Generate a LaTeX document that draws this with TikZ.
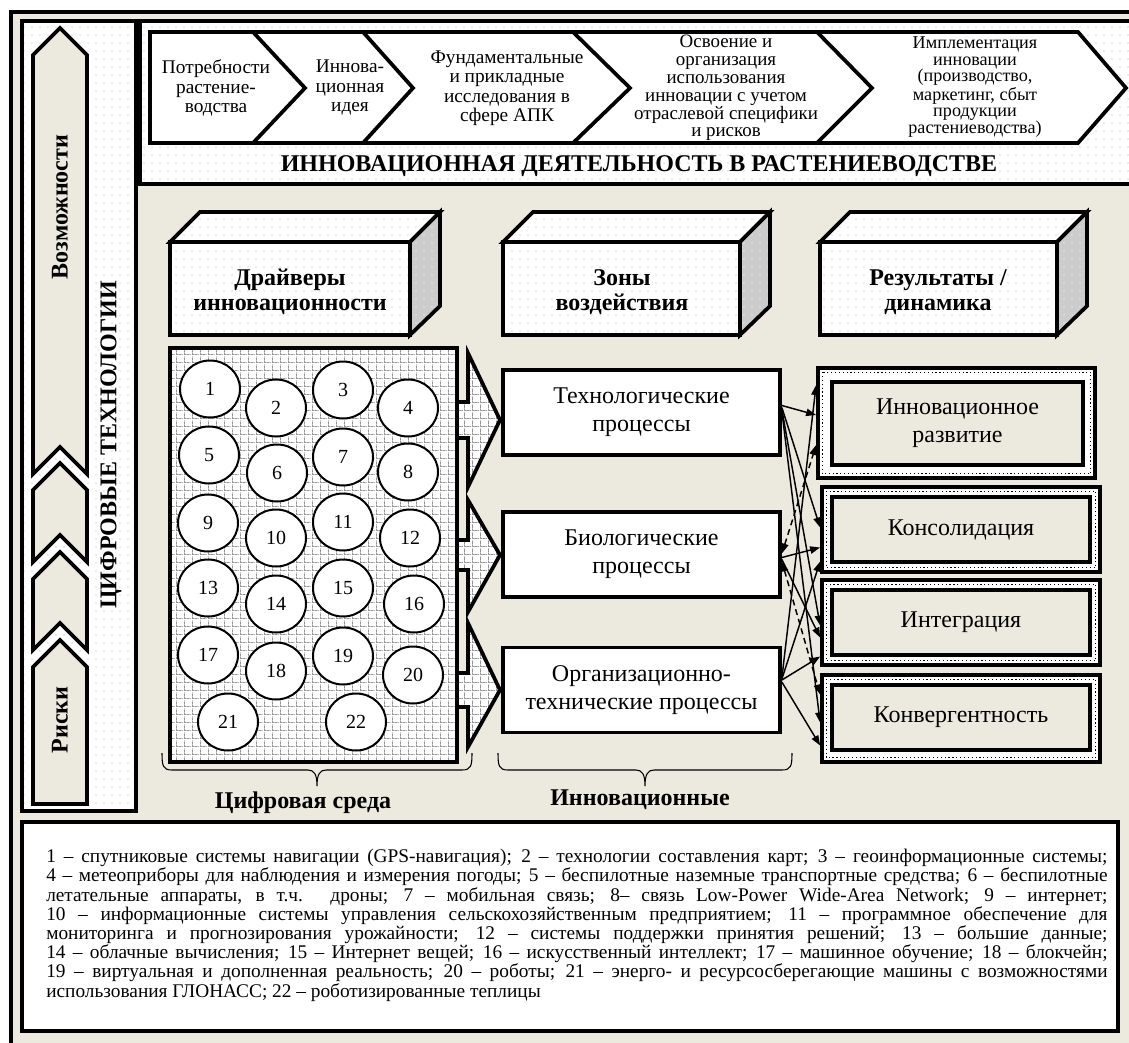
\documentclass[tikz,border=0pt]{standalone}
\usepackage{fontspec}
\setmainfont{Liberation Serif}
\usetikzlibrary{shapes.geometric,arrows.meta,calc,patterns}
\definecolor{beige}{RGB}{236,233,223}
\definecolor{sidegray}{RGB}{204,204,204}
\pgfdeclarepatternformonly{sdots}{\pgfpoint{-0.5pt}{-0.5pt}}{\pgfpoint{0.5pt}{0.5pt}}{\pgfpoint{6pt}{6pt}}{\pgfpathcircle{\pgfpointorigin}{0.45pt}\pgfusepath{fill}}
\pgfdeclarepatternformonly{dgrid}{\pgfpoint{0pt}{0pt}}{\pgfpoint{6pt}{6pt}}{\pgfpoint{6pt}{6pt}}{%
\pgfpathrectangle{\pgfpoint{0pt}{0pt}}{\pgfpoint{0.6pt}{0.6pt}}%
\pgfpathrectangle{\pgfpoint{1.2pt}{0pt}}{\pgfpoint{0.6pt}{0.6pt}}%
\pgfpathrectangle{\pgfpoint{2.4pt}{0pt}}{\pgfpoint{0.6pt}{0.6pt}}%
\pgfpathrectangle{\pgfpoint{3.6pt}{0pt}}{\pgfpoint{0.6pt}{0.6pt}}%
\pgfpathrectangle{\pgfpoint{4.8pt}{0pt}}{\pgfpoint{0.6pt}{0.6pt}}%
\pgfpathrectangle{\pgfpoint{0pt}{1.2pt}}{\pgfpoint{0.6pt}{0.6pt}}%
\pgfpathrectangle{\pgfpoint{0pt}{2.4pt}}{\pgfpoint{0.6pt}{0.6pt}}%
\pgfpathrectangle{\pgfpoint{0pt}{3.6pt}}{\pgfpoint{0.6pt}{0.6pt}}%
\pgfpathrectangle{\pgfpoint{0pt}{4.8pt}}{\pgfpoint{0.6pt}{0.6pt}}%
\pgfusepath{fill}}
\tikzset{
  thk/.style={line width=2.8pt, line join=miter},
  dotbg/.style={preaction={fill=white}, pattern=sdots, pattern color=black!30},
  graybg/.style={preaction={fill=sidegray}, pattern=sdots, pattern color=white},
  gridbg/.style={preaction={fill=white}, pattern=dgrid, pattern color=black},
  ctext/.style={align=center, inner sep=0pt, font=\fontsize{14.5}{14.6}\selectfont},
  boldlbl/.style={align=center, inner sep=0pt, font=\bfseries\fontsize{18}{18.75}\selectfont},
  pbox/.style={draw, thk, fill=white, align=center, minimum width=207.75pt, minimum height=63.75pt, inner sep=0pt, font=\fontsize{18}{21}\selectfont},
  rout/.style={draw, thk, fill=white, minimum width=208.5pt, minimum height=63.75pt, inner sep=0pt},
  rin/.style={draw, thk, fill=beige, align=center, minimum width=193.5pt, minimum height=48.75pt, inner sep=0pt, font=\fontsize{18}{21}\selectfont},
  ring/.style={line width=0.9pt, dotted},
  circ/.style={ellipse, draw, line width=1.5pt, fill=white, minimum width=45pt, minimum height=42.75pt, inner sep=0pt, font=\fontsize{15}{15}\selectfont},
  >={Triangle[length=7.5pt,width=5.5pt]},
  conn/.style={line width=1.1pt, ->},
  dconn/.style={line width=1.1pt, <->, dash pattern=on 4.5pt off 3pt},
  brc/.style={line width=0.8pt},
}
\begin{document}
\begin{tikzpicture}[x=0.75pt,y=-0.75pt]
\useasboundingbox (0,0) rectangle (1129,1043);
\clip (0,0) rectangle (1129,1043);
\fill[white] (0,0) rectangle (1129,1043);
% outer frame
\draw[thk, fill=beige] (11,12) rectangle (1145,1055);
% panels
\draw[thk, dotbg] (140,21) rectangle (1145,184);
\draw[thk, dotbg] (22,21) rectangle (136,811);

% top chevron strip
\draw[thk, fill=white] (150,32) -- (1078,32) -- (1126,88) -- (1078,143) -- (150,143) -- cycle;
\draw[thk] (253,32) -- (305,88) -- (253,143);
\draw[thk] (363,32) -- (413,88) -- (363,143);
\draw[thk] (573,32) -- (630,88) -- (573,143);
\draw[thk] (817,32) -- (872,88) -- (817,143);
\node[ctext] (ch1) at (216,88) {Потребности\\растение-\\водства};
\node[ctext] (ch2) at (350,88) {Иннова-\\ционная\\идея};
\node[ctext] (ch3) at (507,88) {Фундаментальные\\и прикладные\\исследования в\\сфере АПК};
\node[ctext, font=\fontsize{14.2}{13.4}\selectfont] (ch4) at (726,88) {Освоение и\\организация\\использования\\инновации с учетом\\отраслевой специфики\\и рисков};
\node[ctext, font=\fontsize{13.6}{12.4}\selectfont] (ch5) at (975,87) {Имплементация\\инновации\\(производство,\\маркетинг, сбыт\\продукции\\растениеводства)};
\node[inner sep=0pt, font=\bfseries\fontsize{18}{19}\selectfont] (title) at (639,166) {ИННОВАЦИОННАЯ ДЕЯТЕЛЬНОСТЬ В РАСТЕНИЕВОДСТВЕ};

% left column chevrons
\draw[thk, fill=beige] (33,55) -- (60,28) -- (87,55) -- (87,474) -- (60,447) -- (33,474) -- cycle;
\draw[thk, fill=beige] (33,490) -- (60,463) -- (87,490) -- (87,562) -- (60,535) -- (33,562) -- cycle;
\draw[thk, fill=beige] (33,579) -- (60,552) -- (87,579) -- (87,650) -- (60,623) -- (33,650) -- cycle;
\draw[thk, fill=beige] (33,667) -- (60,640) -- (87,667) -- (87,804) -- (33,804) -- cycle;
\node[boldlbl, rotate=90] (vozm) at (60,207) {Возможности};
\node[boldlbl, rotate=90] (riski) at (60,720) {Риски};
\node[boldlbl, rotate=90] (cifr) at (111,445) {ЦИФРОВЫЕ ТЕХНОЛОГИИ};

% 3D boxes
\foreach \xa/\xb in {170/410, 503/740, 820/1057}{
  \draw[thk, dotbg] (\xa,242) -- ({\xa+30},212) -- ({\xb+30},212) -- (\xb,242) -- cycle;
  \draw[thk, graybg] (\xb,242) -- ({\xb+30},212) -- ({\xb+30},306) -- (\xb,335) -- cycle;
  \draw[thk, dotbg] (\xa,242) rectangle (\xb,335);
}
\node[boldlbl] (drv) at (290,292) {Драйверы\\инновационности};
\node[boldlbl] (zon) at (622,292) {Зоны\\воздействия};
\node[boldlbl] (res) at (938,292) {Результаты /\\динамика};

% block arrows
\foreach \ya/\yb/\yc/\yd/\ye in {353/402/420/438/487, 500/540/555/570/612, 623/673/690/707/747}{
  \path[gridbg] (457,\yb) -- (468,\yb) -- (468,\ya) -- (500,\yc) -- (468,\ye) -- (468,\yd) -- (457,\yd) -- cycle;
  \draw[thk] (455,\yb) -- (468,\yb) -- (468,\ya) -- (500,\yc) -- (468,\ye) -- (468,\yd) -- (455,\yd);
}
% circles box
\path[gridbg] (170,348) rectangle (457,762);
\draw[thk] (170,348) rectangle (457,762);
\node[circ] (n1) at (210,389) {1};
\node[circ] (n2) at (276,408) {2};
\node[circ] (n3) at (343,390) {3};
\node[circ] (n4) at (408,408) {4};
\node[circ] (n5) at (209,455) {5};
\node[circ] (n6) at (277,473) {6};
\node[circ] (n7) at (343,457) {7};
\node[circ] (n8) at (408,472) {8};
\node[circ] (n9) at (208,523) {9};
\node[circ] (n10) at (276,538) {10};
\node[circ] (n11) at (343,522) {11};
\node[circ] (n12) at (410,538) {12};
\node[circ] (n13) at (208,588) {13};
\node[circ] (n14) at (276,604) {14};
\node[circ] (n15) at (343,588) {15};
\node[circ] (n16) at (414,604) {16};
\node[circ] (n17) at (208,655) {17};
\node[circ] (n18) at (276,671) {18};
\node[circ] (n19) at (343,656) {19};
\node[circ] (n20) at (413,675) {20};
\node[circ] (n21) at (228,722) {21};
\node[circ] (n22) at (356,722) {22};

% process boxes
\node[pbox] (tech) at (641.5,412.5) {Технологические\\процессы};
\node[pbox] (bio) at (641.5,554.5) {Биологические\\процессы};
\node[pbox] (org) at (641.5,690) {Организационно-\\технические процессы};

% result boxes
\node[rout, minimum width=207.75pt, minimum height=82.5pt] (rA) at (956.5,423) {};
\draw[ring] ($(rA.north west)+(6,6)$) rectangle ($(rA.south east)+(-6,-6)$);
\node[rin, minimum width=188.25pt, minimum height=62.25pt] (rAi) at (957.5,423.5) {Инновационное\\развитие};
\node[rout, minimum height=63.75pt] (rB) at (961,529.5) {};
\draw[ring] ($(rB.north west)+(6,6)$) rectangle ($(rB.south east)+(-6,-6)$);
\node[rin] (rBi) at (961,529.5) {Консолидация};
\node[rout, minimum height=63.75pt] (rC) at (961,622.5) {};
\draw[ring] ($(rC.north west)+(6,6)$) rectangle ($(rC.south east)+(-6,-6)$);
\node[rin] (rCi) at (961,622.5) {Интеграция};
\node[rout, minimum height=65.25pt] (rD) at (961,718.5) {};
\draw[ring] ($(rD.north west)+(6,6)$) rectangle ($(rD.south east)+(-6,-6)$);
\node[rin] (rDi) at (961,717.5) {Конвергентность};

% connectors
\draw[conn] ($(tech.east)+(0,-7)$) -- ($(rA.west)+(0,-8)$);
\draw[conn] ($(tech.east)+(0,-5)$) -- ($(rB.west)+(0,-2)$);
\draw[conn] ($(tech.east)+(0,-3)$) -- ($(rC.west)+(0,3)$);
\draw[conn] ($(tech.east)+(0,-1)$) -- ($(rD.west)+(0,4)$);
\draw[conn] ($(bio.east)+(0,3)$) -- ($(rB.west)+(0,18)$);
\draw[conn] ($(bio.east)+(0,5)$) -- ($(rC.west)+(0,15)$);
\draw[dconn] ($(bio.east)+(0,-1)$) -- ($(rA.west)+(0,22)$);
\draw[dconn] ($(bio.east)+(0,7)$) -- ($(rD.west)+(0,-24)$);
\draw[conn] ($(org.east)+(0,-12)$) -- ($(rA.west)+(0,-38)$);
\draw[conn] ($(org.east)+(0,-11)$) -- ($(rB.west)+(0,32)$);
\draw[conn] ($(org.east)+(0,-10)$) -- ($(rC.west)+(0,34)$);
\draw[conn] ($(org.east)+(0,-8)$) -- ($(rD.west)+(0,27)$);

% braces
\draw[brc] (162,753) .. controls (162,766) and (163,770) .. (172,770) -- (308,770) .. controls (314,770) and (317,774) .. (317,786) .. controls (317,774) and (320,770) .. (326,770) -- (462,770) .. controls (471,770) and (472,766) .. (472,753);
\draw[brc] (498,753) .. controls (498,766) and (499,770) .. (508,770) -- (636,770) .. controls (642,770) and (645,774) .. (645,786) .. controls (645,774) and (648,770) .. (654,770) -- (782,770) .. controls (791,770) and (792,766) .. (792,753);
\node[boldlbl] (cs) at (303,803) {Цифровая среда};
\node[boldlbl] (inn) at (640,800) {Инновационные};

% legend
\draw[thk, fill=white] (22,822) rectangle (1118,1031);
\node[anchor=north west, inner sep=0pt, text width=796pt, align=justify, font=\fontsize{14.5}{14.4}\selectfont] (leg) at (46,849) {\tolerance=10000\hbadness=10000
1 – спутниковые системы навигации (GPS-навигация); 2 – технологии составления карт; 3 – геоинформационные системы;\linebreak
4 – метеоприборы для наблюдения и измерения погоды; 5 – беспилотные наземные транспортные средства; 6 – беспилотные\linebreak
летательные аппараты, в т.ч. дроны; 7 – мобильная связь; 8– связь Low-Power Wide-Area Network; 9 – интернет;\linebreak
10 – информационные системы управления сельскохозяйственным предприятием; 11 – программное обеспечение для\linebreak
мониторинга и прогнозирования урожайности; 12 – системы поддержки принятия решений; 13 – большие данные;\linebreak
14 – облачные вычисления; 15 – Интернет вещей; 16 – искусственный интеллект; 17 – машинное обучение; 18 – блокчейн;\linebreak
19 – виртуальная и дополненная реальность; 20 – роботы; 21 – энерго- и ресурсосберегающие машины с возможностями\linebreak
использования ГЛОНАСС; 22 – роботизированные теплицы};
\end{tikzpicture}
\end{document}
